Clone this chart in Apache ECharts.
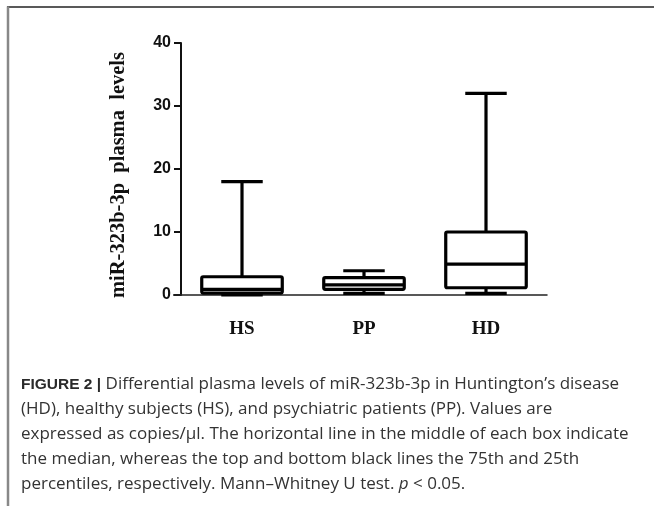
<!DOCTYPE html>
<html>
<head>
<meta charset="utf-8">
<script src="https://cdn.jsdelivr.net/npm/echarts@6/dist/echarts.min.js"></script>
<style>
  html, body { margin: 0; padding: 0; background: #fff; }
  #chart { width: 654px; height: 506px; }
</style>
</head>
<body>
<div id="chart"></div>
<script>
// ---- data ----
const categories = ['HS', 'PP', 'HD'];
const minVals    = [0,    0.25, 0.25];
const q1Vals     = [0.3,  0.9,  1.15];
const medianVals = [0.9,  1.6,  4.9];
const q3Vals     = [2.9,  2.75, 10.0];
const maxVals    = [18,   3.85, 32];
const yTicks = { min: 0, max: 40, interval: 10 };
const yAxisTitle = 'miR-323b-3p  plasma  levels';
const captionLines = [
  ' Differential plasma levels of miR-323b-3p in Huntington\u2019s disease',
  '(HD), healthy subjects (HS), and psychiatric patients (PP). Values are',
  'expressed as copies/\u00b5l. The horizontal line in the middle of each box indicate',
  'the median, whereas the top and bottom black lines the 75th and 25th',
  'percentiles, respectively. Mann\u2013Whitney U test. '
];
const captionLead = 'FIGURE 2 |';

const boxData = categories.map((c, i) => [i, minVals[i], q1Vals[i], medianVals[i], q3Vals[i], maxVals[i]]);

function renderBox(params, api) {
  const idx = api.value(0);
  const band = api.size([1, 0])[0];
  const halfBox = band * 0.33;
  const halfCap = band * 0.17;
  const pMin = api.coord([idx, api.value(1)]);
  const pQ1 = api.coord([idx, api.value(2)]);
  const pMed = api.coord([idx, api.value(3)]);
  const pQ3 = api.coord([idx, api.value(4)]);
  const pMax = api.coord([idx, api.value(5)]);
  const x = pMed[0];
  const st = { stroke: '#000', lineWidth: 3.2, fill: null };
  return {
    type: 'group',
    children: [
      { type: 'line', shape: { x1: x, y1: pMax[1], x2: x, y2: pQ3[1] }, style: st },
      { type: 'line', shape: { x1: x, y1: pQ1[1], x2: x, y2: pMin[1] }, style: st },
      { type: 'line', shape: { x1: x - halfCap, y1: pMax[1], x2: x + halfCap, y2: pMax[1] }, style: st },
      { type: 'line', shape: { x1: x - halfCap, y1: pMin[1], x2: x + halfCap, y2: pMin[1] }, style: st },
      { type: 'rect', shape: { x: x - halfBox, y: pQ3[1], width: halfBox * 2, height: pQ1[1] - pQ3[1], r: 1.5 },
        style: { fill: '#fff', stroke: '#000', lineWidth: 3.2 } },
      { type: 'line', shape: { x1: x - halfBox, y1: pMed[1], x2: x + halfBox, y2: pMed[1] }, style: st }
    ]
  };
}

const chart = echarts.init(document.getElementById('chart'), null, { renderer: 'canvas' });

const captionText = '{b|' + captionLead + '}{r|' + captionLines[0] + '}\n' +
  captionLines.slice(1, 4).map(s => '{r|' + s + '}').join('\n') + '\n{r|' + captionLines[4] + '}{i|p}{r| < 0.05.}';

const capFont = '"Open Sans"';
const option = {
  backgroundColor: '#fff',
  animation: false,
  grid: { left: 181, right: 107, top: 43, bottom: 211, containLabel: false },
  xAxis: {
    type: 'category',
    data: categories,
    boundaryGap: true,
    axisLine: { lineStyle: { color: '#222', width: 1.5 } },
    axisTick: { alignWithLabel: true, length: 8, lineStyle: { color: '#111', width: 2 } },
    axisLabel: { margin: 25, color: '#111', fontFamily: 'Liberation Serif', fontWeight: 'bold', fontSize: 19 },
    splitLine: { show: false }
  },
  yAxis: {
    type: 'value',
    min: yTicks.min, max: yTicks.max, interval: yTicks.interval,
    name: yAxisTitle,
    nameLocation: 'middle',
    nameGap: 52,
    nameRotate: 90,
    nameTextStyle: { color: '#111', fontFamily: 'Liberation Serif', fontWeight: 'bold', fontSize: 20.5, padding: [0, 12, 0, 0] },
    axisLine: { show: true, lineStyle: { color: '#111', width: 2 } },
    axisTick: { show: true, length: 7, lineStyle: { color: '#111', width: 2 } },
    axisLabel: { margin: 10, color: '#111', fontFamily: 'Liberation Sans', fontWeight: 'bold', fontSize: 16 },
    splitLine: { show: false }
  },
  series: [{
    type: 'custom',
    renderItem: renderBox,
    data: boxData,
    encode: { x: 0, y: [1, 2, 3, 4, 5] },
    z: 5
  }],
  graphic: [
    { type: 'line', shape: { x1: 7, y1: 7, x2: 654, y2: 7 }, style: { stroke: '#222', lineWidth: 1.5 }, silent: true },
    { type: 'line', shape: { x1: 8, y1: 6.5, x2: 8, y2: 506 }, style: { stroke: '#888', lineWidth: 2.5 }, silent: true },
    {
      type: 'text', left: 21, top: 372, silent: true,
      style: {
        text: captionText,
        fill: '#333',
        font: '17px ' + capFont,
        lineHeight: 25,
        rich: {
          b: { fontWeight: 'bold', fontSize: 15.5, fontFamily: 'Liberation Sans', fill: '#2a2a2a', lineHeight: 25 },
          r: { fontSize: 17, fontFamily: capFont, fill: '#333', lineHeight: 25 },
          i: { fontStyle: 'italic', fontSize: 17, fontFamily: capFont, fill: '#333', lineHeight: 25 }
        }
      }
    }
  ]
};
chart.setOption(option);

// extend the x axis line slightly left of the y axis, as in the original
const origin = chart.convertToPixel({ gridIndex: 0 }, [0, 0]);
const gridLeft = chart.convertToPixel({ xAxisIndex: 0 }, 0) - chart.getModel().getComponent('xAxis', 0).axis.getBandWidth() / 2;
chart.setOption({
  graphic: option.graphic.concat([
    { type: 'line', shape: { x1: gridLeft - 8, y1: origin[1], x2: gridLeft, y2: origin[1] },
      style: { stroke: '#222', lineWidth: 1.5 }, silent: true, z: 10 }
  ])
});
</script>
</body>
</html>
